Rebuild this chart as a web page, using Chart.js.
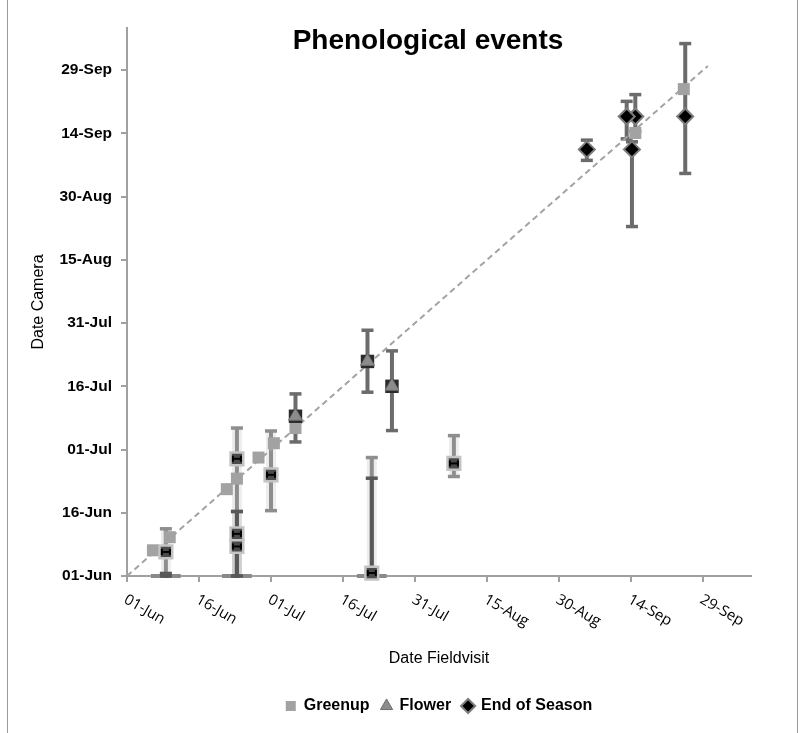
<!DOCTYPE html>
<html>
<head>
<meta charset="utf-8">
<script src="https://cdn.jsdelivr.net/npm/chart.js@4/dist/chart.umd.min.js"></script>
<style>
html,body{margin:0;padding:0;background:#fff;}
#wrap{position:relative;width:805px;height:733px;overflow:hidden;}
#frame{position:absolute;left:7px;top:-2px;width:789px;height:740px;border-left:1px solid #9a9a9a;border-right:1px solid #9a9a9a;pointer-events:none;}
#title{position:absolute;left:178px;width:500px;top:24px;text-align:center;font:bold 28px "Liberation Sans",Arial,sans-serif;color:#000;line-height:32px;}
canvas{position:absolute;left:0;top:0;}
</style>
</head>
<body>
<div id="wrap">
<canvas id="c" width="805" height="733"></canvas>
<div id="frame"></div>
<div id="title">Phenological events</div>
</div>
<script>
// ---- axis ticks (days since 01-Jun) ----
const tickDays = [0, 15, 30, 45, 60, 75, 90, 105, 120];
const tickLabels = ['01-Jun','16-Jun','01-Jul','16-Jul','31-Jul','15-Aug','30-Aug','14-Sep','29-Sep'];
const axisMaxDay = 130;
const oneToOne = [0, 121];

// ---- Greenup (plain markers on/near the 1:1 line) ----
const greenupX = [5.4, 8.9, 20.8, 22.9, 27.4, 30.6, 35.1, 105.9, 116.0];
const greenupY = [6.1, 9.2, 20.6, 23.1, 28.1, 31.5, 35.1, 105.1, 115.5];

// ---- Greenup camera (square markers with error bars) ----
const gcX    = [8.1, 22.9, 22.9, 22.9, 30.0, 51.0, 68.1];
const gcY    = [5.7, 27.8, 10.0, 7.0, 24.0, 0.7, 26.7];
const gcLow  = [0, 0, 0, 0, 15.5, 0, 23.6];
const gcHigh = [11.2, 35.1, 15.3, 9.0, 34.4, 28.1, 33.3];

// ---- points at the axis (no camera date) ----
const zX    = [8.1, 22.9, 51.0];
const zY    = [0, 0, 0];
const zHigh = [0.6, 15.3, 23.2];

// ---- Flower ----
const flowerX    = [35.1, 50.1, 55.2];
const flowerY    = [37.9, 50.9, 45.0];
const flowerLow  = [31.8, 43.6, 34.5];
const flowerHigh = [43.2, 58.3, 53.4];

// ---- End of Season ----
const eosX    = [95.8, 105.9, 104.1, 105.2, 116.3];
const eosY    = [101.2, 109.0, 109.0, 101.2, 109.0];
const eosLow  = [98.6, 105.5, 103.7, 82.9, 95.5];
const eosHigh = [103.4, 114.2, 112.6, 103.0, 126.3];

const pts = (xs, ys) => xs.map((v, i) => ({x: v, y: ys[i]}));

function line(ctx, x1, y1, x2, y2) { ctx.beginPath(); ctx.moveTo(x1, y1); ctx.lineTo(x2, y2); ctx.stroke(); }

const errorBars = {
  id: 'errorBars',
  beforeDatasetsDraw(chart) {
    const {ctx, scales: {x, y}} = chart;
    chart.data.datasets.forEach((ds, i) => {
      if (!chart.isDatasetVisible(i)) return;
      ctx.save();
      if (ds.hBar) {
        ds.data.forEach(p => {
          const py = y.getPixelForValue(p.y);
          ctx.strokeStyle = '#8a8a8a'; ctx.lineWidth = 4;
          line(ctx, x.getPixelForValue(p.x - ds.hBar), py, x.getPixelForValue(p.x + ds.hBar), py);
          ctx.strokeStyle = '#555'; ctx.lineWidth = 4;
          line(ctx, x.getPixelForValue(p.x) - 3, py, x.getPixelForValue(p.x) + 3, py);
        });
      }
      if (ds.errLow) {
        ds.data.forEach((p, j) => {
          const px = x.getPixelForValue(p.x);
          const lo = y.getPixelForValue(ds.errLow[j]);
          const hi = y.getPixelForValue(ds.errHigh[j]);
          if (ds.errGlow) {
            ctx.strokeStyle = 'rgba(0,0,0,0.07)'; ctx.lineWidth = 10;
            line(ctx, px, lo, px, hi);
          }
          ctx.strokeStyle = ds.errColor; ctx.lineWidth = 4;
          line(ctx, px, lo, px, hi);
          ctx.lineWidth = 3.5;
          line(ctx, px - 6, hi, px + 6, hi);
          line(ctx, px - 6, lo, px + 6, lo);
        });
      }
      ctx.restore();
    });
  },
  afterDatasetsDraw(chart) {
    const {ctx, scales: {x, y}} = chart;
    chart.data.datasets.forEach((ds, i) => {
      if (!ds.innerH || !chart.isDatasetVisible(i)) return;
      ctx.save();
      ctx.strokeStyle = '#000'; ctx.lineWidth = 2;
      ds.data.forEach(p => {
        const px = x.getPixelForValue(p.x), py = y.getPixelForValue(p.y);
        line(ctx, px - 4, py, px + 4, py);
        line(ctx, px - 4, py - 3, px - 4, py + 3);
        line(ctx, px + 4, py - 3, px + 4, py + 3);
      });
      ctx.restore();
    });
  }
};

const xLabels = {
  id: 'xLabels',
  afterDraw(chart) {
    const {ctx, scales: {x}} = chart;
    ctx.save();
    ctx.fillStyle = '#000';
    ctx.font = '15px "Open Sans", sans-serif';
    ctx.textAlign = 'left';
    ctx.textBaseline = 'top';
    tickDays.forEach((d, i) => {
      const px = x.getPixelForValue(d);
      ctx.save();
      ctx.translate(px + 2, x.top + 16);
      ctx.rotate(Math.PI / 6);
      ctx.fillText(tickLabels[i], 0, 0);
      ctx.restore();
    });
    ctx.restore();
  }
};

const setTicks = scale => { scale.ticks = tickDays.map(v => ({value: v})); };

new Chart(document.getElementById('c'), {
  type: 'scatter',
  data: {
    datasets: [
      { label: 'Greenup', data: pts(greenupX, greenupY), pointStyle: 'rect', pointRadius: 8.5,
        backgroundColor: '#a2a2a2', borderColor: '#a2a2a2', borderWidth: 0, order: 8, clip: false },
      { label: 'Flower', data: pts(flowerX, flowerY), pointStyle: 'triangle', pointRadius: 8,
        backgroundColor: '#8c8c8c', borderColor: '#6e6e6e', borderWidth: 1, order: 3, clip: false },
      { label: 'End of Season', data: pts(eosX, eosY), pointStyle: 'rectRot', pointRadius: 8,
        backgroundColor: '#000', borderColor: '#7d7d7d', borderWidth: 2, order: 2, clip: false,
        errLow: eosLow, errHigh: eosHigh, errColor: '#6b6b6b' },
      { label: 'camera', legendHide: true, data: pts(gcX, gcY), pointStyle: 'rect', pointRadius: 9,
        backgroundColor: '#4a4a4a', borderColor: '#c4c4c4', borderWidth: 2.5, order: 5, clip: false,
        errLow: gcLow, errHigh: gcHigh, errColor: '#8e8e8e', errGlow: true, innerH: true },
      { label: 'axis', legendHide: true, data: pts(zX, zY), pointRadius: 0, order: 6, clip: false,
        hBar: 3.1, errLow: zY, errHigh: zHigh, errColor: '#585858' },
      { label: 'flowerbox', legendHide: true, data: pts(flowerX, flowerY), pointStyle: 'rect', pointRadius: 9.5,
        backgroundColor: '#2b2b2b', borderWidth: 0, order: 4, clip: false,
        errLow: flowerLow, errHigh: flowerHigh, errColor: '#6b6b6b' },
      { label: '1:1', legendHide: true, type: 'line', data: pts(oneToOne, oneToOne), showLine: true,
        borderColor: '#a3a3a3', borderWidth: 2, borderDash: [6, 4], pointRadius: 0, order: 10, clip: false }
    ]
  },
  options: {
    responsive: false,
    animation: false,
    events: [],
    layout: { padding: { left: 0, right: 54, top: 28, bottom: 9 } },
    plugins: {
      tooltip: { enabled: false },
      title: { display: false },
      legend: {
        position: 'bottom',
        fullSize: false,
        labels: {
          usePointStyle: true, boxWidth: 10, boxHeight: 10, padding: 12, color: '#000',
          font: { family: '"Liberation Sans", Arial, sans-serif', size: 16, weight: 'bold' },
          filter: (item, data) => !data.datasets[item.datasetIndex].legendHide,
          sort: (a, b) => a.datasetIndex - b.datasetIndex
        }
      }
    },
    scales: {
      x: {
        type: 'linear', min: 0, max: axisMaxDay,
        afterBuildTicks: setTicks,
        afterFit: s => { s.height = 110; },
        grid: { drawOnChartArea: false, drawTicks: true, tickLength: 6, color: '#a0a0a0', lineWidth: 2 },
        border: { color: '#a0a0a0', width: 2 },
        ticks: { display: false },
        title: { display: true, text: 'Date Fieldvisit', color: '#000',
          font: { family: '"Liberation Sans", Arial, sans-serif', size: 16 }, padding: { top: 0, bottom: 18 } }
      },
      y: {
        type: 'linear', min: 0, max: axisMaxDay,
        afterBuildTicks: setTicks,
        afterFit: s => { s.width = 127; },
        grid: { drawOnChartArea: false, drawTicks: true, tickLength: 6, color: '#a0a0a0', lineWidth: 2 },
        border: { color: '#a0a0a0', width: 2 },
        ticks: {
          color: '#000', padding: 9,
          font: { family: '"Liberation Sans", Arial, sans-serif', size: 15.5, weight: 'bold' },
          callback: (v, i) => tickLabels[tickDays.indexOf(v)]
        },
        title: { display: true, text: 'Date Camera', color: '#000',
          font: { family: '"Liberation Sans", Arial, sans-serif', size: 16 }, padding: { top: 29, bottom: 0 } }
      }
    }
  },
  plugins: [errorBars, xLabels]
});
</script>
</body>
</html>
